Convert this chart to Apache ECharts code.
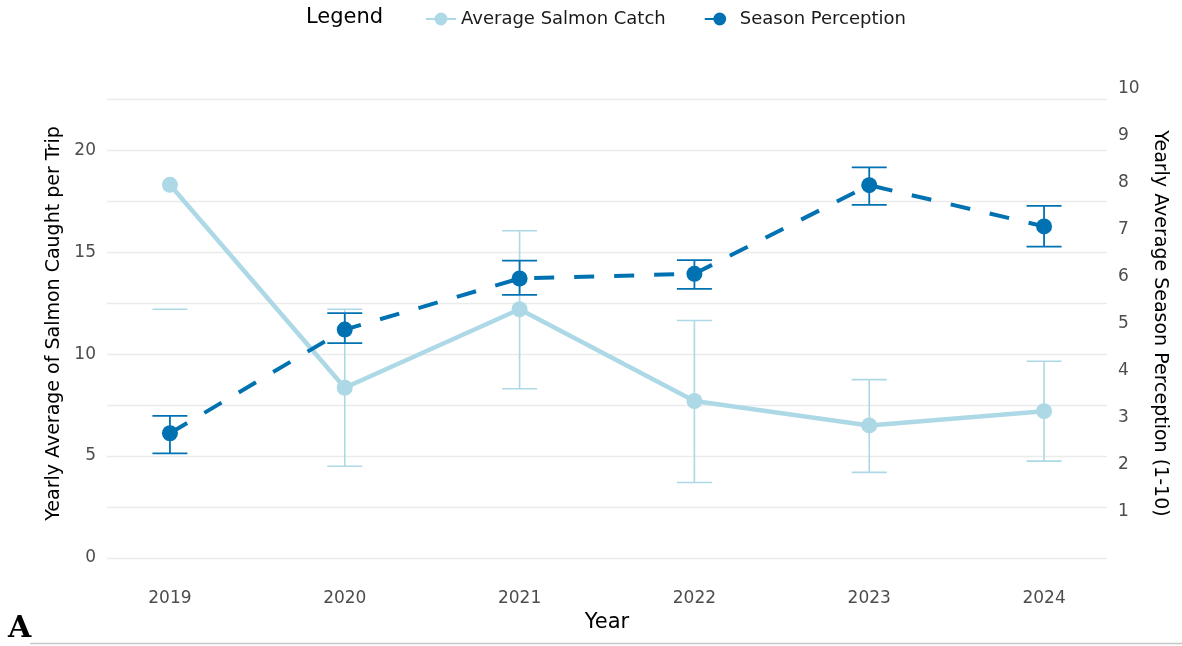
<!DOCTYPE html>
<html>
<head>
<meta charset="utf-8">
<title>Salmon catch and season perception</title>
<script src="https://cdn.jsdelivr.net/npm/echarts@6/dist/echarts.min.js"></script>
<style>
  html, body { margin: 0; padding: 0; background: #fff; }
  #chart { width: 1182px; height: 646px; }
</style>
</head>
<body>
<div id="chart"></div>
<script>
// data
const years = [2019, 2020, 2021, 2022, 2023, 2024];
const catchMean = [18.3, 8.35, 12.2, 7.7, 6.5, 7.2];
const catchLow = [12.2, 4.5, 8.3, 3.7, 4.2, 4.75];
const catchHigh = [24.4, 12.2, 16.05, 11.65, 8.75, 9.65];
const perceptionMean = [2.66, 4.87, 5.96, 6.06, 7.95, 7.07];
const perceptionLow = [2.23, 4.58, 5.61, 5.74, 7.53, 6.64];
const perceptionHigh = [3.03, 5.22, 6.34, 6.35, 8.33, 7.51];
const leftTicks = [0, 5, 10, 15, 20];
const rightTicks = [1, 2, 3, 4, 5, 6, 7, 8, 9, 10];

const FONT = 'DejaVu Sans';
const SALMON = '#ADD8E6';
const PERCEPTION = '#0072B2';
const LEFT_MAX = 23;
const RIGHT_MAX = 10;

const chart = echarts.init(document.getElementById('chart'));

// error bar drawn through the axis scales; parts beyond the axis max are dropped
function errorBar(color, width, axisMax) {
  return function (params, api) {
    const x = api.value(0);
    const lo = api.value(1);
    const hi = api.value(2);
    const half = 17.5;
    const style = { stroke: color, lineWidth: width };
    const pLo = api.coord([x, lo]);
    const children = [
      { type: 'line', shape: { x1: pLo[0] - half, y1: pLo[1], x2: pLo[0] + half, y2: pLo[1] }, style: style }
    ];
    if (hi <= axisMax) {
      const pHi = api.coord([x, hi]);
      children.push({ type: 'line', shape: { x1: pLo[0], y1: pLo[1], x2: pHi[0], y2: pHi[1] }, style: style });
      children.push({ type: 'line', shape: { x1: pHi[0] - half, y1: pHi[1], x2: pHi[0] + half, y2: pHi[1] }, style: style });
    }
    return { type: 'group', children: children };
  };
}

const option = {
  backgroundColor: '#fff',
  textStyle: { fontFamily: FONT },
  animation: false,
  graphic: [
    { type: 'text', left: 306, top: 7, style: { text: 'Legend', font: '21px ' + FONT, fill: '#000' } },
    { type: 'text', left: 8, top: 614, style: { text: 'A', font: 'bold 30px "DejaVu Serif"', fill: '#000' } },
    { type: 'line', shape: { x1: 30, y1: 643.5, x2: 1182, y2: 643.5 }, style: { stroke: '#c8c8c8', lineWidth: 1.5 } }
  ],
  legend: {
    left: 420,
    top: 5,
    itemWidth: 30,
    itemHeight: 16,
    itemGap: 38,
    data: ['Average Salmon Catch', 'Season Perception'],
    textStyle: { fontSize: 18, color: '#1a1a1a', fontFamily: FONT }
  },
  grid: { left: 107, right: 75, top: 89, bottom: 88 },
  xAxis: {
    type: 'value',
    min: 2018.64,
    max: 2024.36,
    name: 'Year',
    nameLocation: 'middle',
    nameGap: 52,
    nameTextStyle: { fontSize: 21, color: '#000' },
    axisLine: { show: false },
    axisTick: { show: false },
    splitLine: { show: false },
    axisLabel: {
      customValues: years,
      formatter: v => String(v),
      margin: 32,
      fontSize: 17,
      color: '#4d4d4d'
    }
  },
  yAxis: [
    {
      type: 'value',
      min: 0,
      max: LEFT_MAX,
      interval: 2.5,
      name: 'Yearly Average of Salmon Caught per Trip',
      nameLocation: 'middle',
      nameRotate: 90,
      nameGap: 42,
      nameTextStyle: { fontSize: 19, color: '#000' },
      axisLine: { show: false },
      axisTick: { show: false },
      axisLabel: {
        formatter: v => (leftTicks.indexOf(v) >= 0 ? String(v) : ''),
        margin: 11,
        fontSize: 17,
        color: '#4d4d4d'
      },
      splitLine: { show: true, showMaxLine: false, lineStyle: { color: '#ebebeb', width: 1.3 } }
    },
    {
      type: 'value',
      min: 0,
      max: RIGHT_MAX,
      interval: 1,
      position: 'right',
      name: 'Yearly Average Season Perception (1-10)',
      nameLocation: 'middle',
      nameRotate: -90,
      nameGap: 43,
      nameTextStyle: { fontSize: 19, color: '#000' },
      axisLine: { show: false },
      axisTick: { show: false },
      splitLine: { show: false },
      axisLabel: {
        formatter: v => (rightTicks.indexOf(v) >= 0 ? String(v) : ''),
        margin: 11,
        fontSize: 17,
        color: '#4d4d4d'
      }
    }
  ],
  series: [
    {
      name: 'Average Salmon Catch',
      type: 'line',
      yAxisIndex: 0,
      data: years.map((y, i) => [y, catchMean[i]]),
      symbol: 'circle',
      symbolSize: 16,
      lineStyle: { color: SALMON, width: 4.5 },
      itemStyle: { color: SALMON },
      z: 2
    },
    {
      type: 'custom',
      yAxisIndex: 0,
      data: years.map((y, i) => [y, catchLow[i], catchHigh[i]]),
      encode: { x: 0, y: [1, 2] },
      renderItem: errorBar(SALMON, 1.6, LEFT_MAX),
      z: 3
    },
    {
      name: 'Season Perception',
      type: 'line',
      yAxisIndex: 1,
      data: years.map((y, i) => [y, perceptionMean[i]]),
      symbol: 'circle',
      symbolSize: 16,
      lineStyle: { color: PERCEPTION, width: 4, type: [20, 20] },
      itemStyle: { color: PERCEPTION },
      z: 4
    },
    {
      type: 'custom',
      yAxisIndex: 1,
      data: years.map((y, i) => [y, perceptionLow[i], perceptionHigh[i]]),
      encode: { x: 0, y: [1, 2] },
      renderItem: errorBar(PERCEPTION, 1.8, RIGHT_MAX),
      z: 5
    }
  ]
};

chart.setOption(option);
</script>
</body>
</html>
